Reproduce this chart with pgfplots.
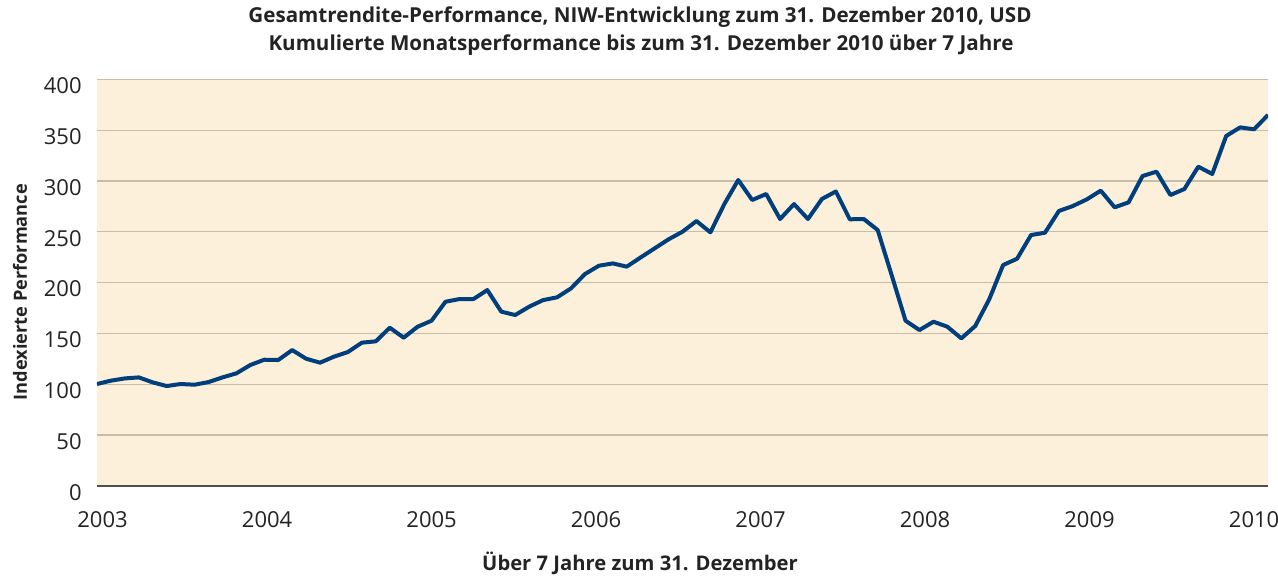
\documentclass[border=0pt]{standalone}
\usepackage{fontspec}
\setmainfont{Open Sans}
\usepackage{pgfplots}
\pgfplotsset{compat=1.18}
\usetikzlibrary{calc}
\definecolor{bgc}{RGB}{252,240,218}
\definecolor{gridc}{RGB}{200,188,170}
\definecolor{axc}{RGB}{85,78,72}
\definecolor{linec}{RGB}{0,62,124}
\definecolor{txt}{RGB}{35,35,35}
\begin{document}
\begin{tikzpicture}
\begin{axis}[name=ax, scale only axis, width=585.5pt, height=203.2pt,
  xmin=0, xmax=84, ymin=0, ymax=400,
  axis background/.style={fill=bgc},
  axis x line*=bottom, axis y line*=left,
  x axis line style={draw=axc, line width=1.1pt, -},
  y axis line style={draw=none},
  ymajorgrids, grid style={draw=gridc, line width=0.6pt},
  major tick length=0pt,
  ytick={0,50,...,400},
  xtick={0.4,12.2,24.0,35.8,47.6,59.4,71.2,83.0},
  xticklabels={2003,2004,2005,2006,2007,2008,2009,2010},
  /pgf/number format/assume math mode=true,
  /pgf/number format/1000 sep={},
  ticklabel style={font=\fontsize{11}{13}\selectfont, text=txt},
  yticklabel style={anchor=east, inner sep=0pt, xshift=-7.5pt, yshift=-3.3pt},
  xticklabel style={anchor=north, inner sep=0pt, yshift=-12.8pt},
]
\addplot[linec, line width=2pt, line join=round] coordinates {
(0,100.1) (1,103.4) (2,105.6) (3,106.6) (4,101.7) (5,98.1) (6,100.1) (7,99.4) (8,102) (9,106.6)
(10,110.6) (11,118.8) (12,124) (13,123.7) (14,133.5) (15,125) (16,121.1) (17,127) (18,131.6) (19,140.8)
(20,142.1) (21,155.5) (22,145.7) (23,156.5) (24,162.4) (25,181.1) (26,183.7) (27,183.7) (28,192.6) (29,171.3)
(30,168) (31,176.2) (32,182.7) (33,185.4) (34,194.2) (35,208.3) (36,216.5) (37,218.8) (38,215.6) (39,224.7)
(40,233.6) (41,242.5) (42,250) (43,260.5) (44,249.4) (45,277.2) (46,300.9) (47,281.2) (48,287.1) (49,262.5)
(50,277.2) (51,262.5) (52,282.2) (53,289.6) (54,262.2) (55,262.5) (56,251.7) (57,207.4) (58,162.4) (59,153.2)
(60,161.4) (61,156.5) (62,145) (63,157.2) (64,183.4) (65,217.2) (66,223.4) (67,246.7) (68,249) (69,270.4)
(70,275.3) (71,281.8) (72,290.4) (73,274) (74,278.9) (75,304.8) (76,309.1) (77,286.1) (78,292) (79,314)
(80,306.8) (81,344.2) (82,352.7) (83,350.8) (84,364.9)
};
\end{axis}
\node[text=txt, font=\bfseries\fontsize{10.3}{12}\selectfont] at ($(ax.south west)+(271.5pt,234.3pt)$) {Gesamtrendite-Performance, NIW-Entwicklung zum 31. Dezember 2010, USD};
\node[text=txt, font=\bfseries\fontsize{10.3}{12}\selectfont] at ($(ax.south west)+(272pt,220.3pt)$) {Kumulierte Monatsperformance bis zum 31. Dezember 2010 über 7 Jahre};
\node[text=txt, font=\bfseries\fontsize{10.1}{12}\selectfont] at ($(ax.south west)+(271.5pt,-38.6pt)$) {Über 7 Jahre zum 31. Dezember};
\node[text=txt, font=\bfseries\fontsize{9.1}{11}\selectfont, rotate=90] at ($(ax.south west)+(-38.5pt,96.8pt)$) {Indexierte Performance};
\pgfresetboundingbox
\path ($(ax.south west)+(-48.5pt,242.85pt)$) rectangle ($(ax.south west)+(590.5pt,-44.65pt)$);
\end{tikzpicture}
\end{document}
